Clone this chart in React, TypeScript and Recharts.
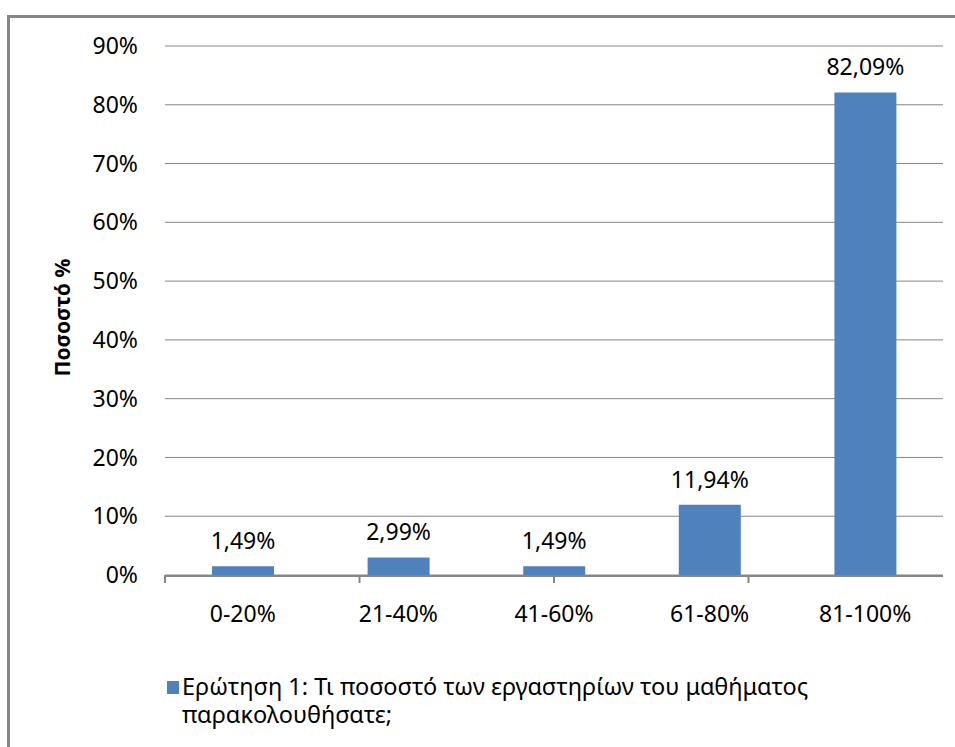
import { BarChart, Bar, XAxis, YAxis, CartesianGrid, LabelList, Label } from 'recharts'

const categories = ['0-20%', '21-40%', '41-60%', '61-80%', '81-100%']
const shares = [1.49, 2.99, 1.49, 11.94, 82.09]
const yTicks = [0, 10, 20, 30, 40, 50, 60, 70, 80, 90]
const boundaryTicks = [0, 1, 2, 3, 4, 5]
const seriesName = 'Ερώτηση 1: Τι ποσοστό των εργαστηρίων του μαθήματος παρακολουθήσατε;'
const axisTitle = 'Ποσοστό %'

const data = categories.map((c, i) => ({ cat: c, share: shares[i] }))

const FONT = '"Noto Sans", sans-serif'
const GRID = '#868686'
const BAR = '#4F81BD'

const fmtPct = (v: number) => v.toFixed(2).replace('.', ',') + '%'

export default function App() {
  return (
    <div style={{ position: 'fixed', left: 0, top: 0, width: 955, height: 747, background: '#fff', overflow: 'hidden', fontFamily: FONT }}>
      <div style={{ position: 'absolute', left: 7, top: 15, width: 980, height: 760, border: '3px solid #868686', boxSizing: 'border-box' }} />
      <BarChart
        width={955}
        height={747}
        data={data}
        margin={{ top: 46, right: 12, left: 45, bottom: 112 }}
        style={{ position: 'absolute', left: 0, top: 0 }}
      >
        <CartesianGrid horizontal vertical={false} stroke={GRID} strokeWidth={1} />
        <XAxis
          xAxisId="bounds"
          type="number"
          domain={[0, 5]}
          ticks={boundaryTicks}
          height={1}
          tick={() => <g />}
          tickSize={8}
          tickLine={{ stroke: GRID, strokeWidth: 2 }}
          axisLine={false}
          allowDataOverflow
        />
        <XAxis
          xAxisId="cat"
          dataKey="cat"
          height={59}
          tickLine={false}
          axisLine={{ stroke: GRID, strokeWidth: 2 }}
          tickSize={8}
          tickMargin={22}
          tick={{ fontSize: 23, fill: '#000', fontFamily: FONT }}
          interval={0}
        />
        <YAxis
          domain={[0, 90]}
          ticks={yTicks}
          width={120}
          tickLine={false}
          axisLine={false}
          tickSize={0}
          tickMargin={27}
          tickFormatter={(v: number) => `${v}%`}
          tick={{ fontSize: 23, fill: '#000', fontFamily: FONT }}
        >
          <Label
            content={({ viewBox }: any) => {
              const cx = viewBox.x + 17
              const cy = viewBox.y + viewBox.height / 2 + 7
              return (
                <text
                  x={cx}
                  y={cy}
                  transform={`rotate(-90 ${cx} ${cy})`}
                  textAnchor="middle"
                  dominantBaseline="central"
                  fontSize={21}
                  fontWeight="bold"
                  fontFamily={FONT}
                  fill="#000"
                >
                  {axisTitle}
                </text>
              )
            }}
          />
        </YAxis>
        <Bar xAxisId="cat" dataKey="share" name={seriesName} fill={BAR} barSize={62} isAnimationActive={false}>
          <LabelList
            dataKey="share"
            position="top"
            offset={17}
            formatter={(v: any) => fmtPct(Number(v))}
            style={{ fontSize: 23, fill: '#000', fontFamily: FONT }}
          />
        </Bar>
      </BarChart>
      <div style={{ position: 'absolute', left: 167, top: 672, width: 700, display: 'flex', alignItems: 'flex-start' }}>
        <div style={{ width: 12, height: 13, background: BAR, marginTop: 9, marginRight: 3, flex: 'none' }} />
        <div style={{ fontSize: 23.5, lineHeight: '28px', color: '#000', width: 680 }}>{seriesName}</div>
      </div>
    </div>
  )
}
